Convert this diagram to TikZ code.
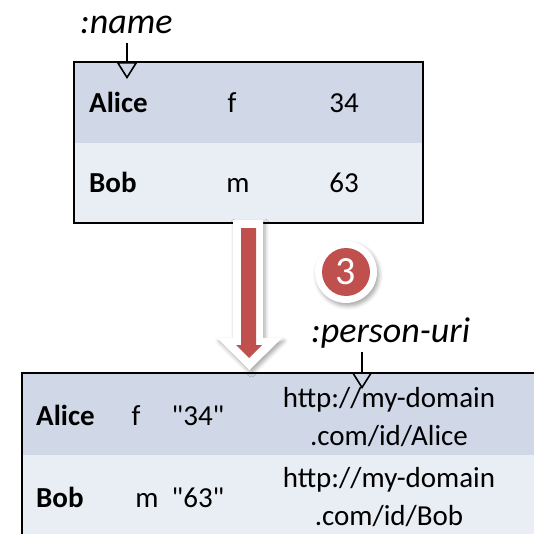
\documentclass[tikz,border=0pt]{standalone}
\usepackage{fontspec}
\setmainfont{Carlito}[Ligatures=TeXOff]
\usetikzlibrary{arrows.meta,shadows,shadows.blur}
\definecolor{rowA}{HTML}{D0D8E8}
\definecolor{rowB}{HTML}{E9EDF4}
\definecolor{redA}{HTML}{C0504D}
\begin{document}
\begin{tikzpicture}[x=1pt,y=-1pt,
  cell/.style={font=\fontsize{29}{34}\selectfont, inner sep=0pt},
  bcell/.style={font=\fontsize{29}{34}\selectfont\bfseries, inner sep=0pt},
  lbl/.style={font=\fontsize{36}{42}\selectfont\itshape, inner sep=0pt},
  ptr/.style={line width=1.6pt, -{Triangle[open,length=17pt,width=21pt,line width=1.6pt]}},
  tableborder/.style={line width=2.5pt, draw=black},
  softshadow/.style={blur shadow={shadow xshift=2pt, shadow yshift=-3pt, shadow blur radius=4pt, shadow opacity=35}}]
\useasboundingbox (0,0) rectangle (533,534);
% top table
\fill[rowA] (74,62) rectangle (423,143);
\fill[rowB] (74,143) rectangle (423,223);
\draw[tableborder] (74,62) rectangle (423,223);
\node[bcell, anchor=base west] (a1) at (89,113) {Alice};
\node[cell, anchor=base] (a2) at (232,113) {f};
\node[cell, anchor=base] (a3) at (344,113) {34};
\node[bcell, anchor=base west] (b1) at (89,193) {Bob};
\node[cell, anchor=base] (b2) at (238,193) {m};
\node[cell, anchor=base] (b3) at (344,193) {63};
% :name label
\node[lbl, anchor=base west] (nm) at (80,34) {:name};
\coordinate (ns) at (127,43);
\coordinate (nt) at (127,79);
\draw[ptr] (ns) -- (nt);
% bottom table
\fill[rowA] (22,373) rectangle (545,455);
\fill[rowB] (22,455) rectangle (545,545);
\draw[tableborder] (545,373) -- (22,373) -- (22,545);
\node[bcell, anchor=base west] (c1) at (36,425) {Alice};
\node[cell, anchor=base] (c2) at (136,425) {f};
\node[cell, anchor=base] (c3) at (198,425) {"34"};
\node[cell, anchor=base] (c4) at (389,407) {http://my-domain};
\node[cell, anchor=base] (c5) at (389,445) {.com/id/Alice};
\node[bcell, anchor=base west] (d1) at (36,507) {Bob};
\node[cell, anchor=base] (d2) at (147,507) {m};
\node[cell, anchor=base] (d3) at (198,507) {"63"};
\node[cell, anchor=base] (d4) at (389,487) {http://my-domain};
\node[cell, anchor=base] (d5) at (389,525) {.com/id/Bob};
% :person-uri label
\node[lbl, anchor=base west] (pu) at (311,342) {:person-uri};
\coordinate (ps) at (362,352);
\coordinate (pt) at (362,389);
\draw[ptr] (ps) -- (pt);
% block arrow
\path[fill=white, softshadow] (233,220) -- (263,220) -- (263,338) -- (282,338) -- (249.5,370) -- (217,338) -- (233,338) -- cycle;
\fill[redA] (241,228) -- (256,228) -- (256,345) -- (262,345) -- (249,358) -- (236,345) -- (241,345) -- cycle;
% step badge
\node[circle, fill=white, minimum size=62pt, inner sep=0pt, softshadow] (cw) at (346,272) {};
\node[circle, fill=redA, minimum size=48pt, inner sep=0pt, text=white, font=\fontsize{40}{46}\selectfont] (cn) at (cw) {3};
\end{tikzpicture}
\end{document}
